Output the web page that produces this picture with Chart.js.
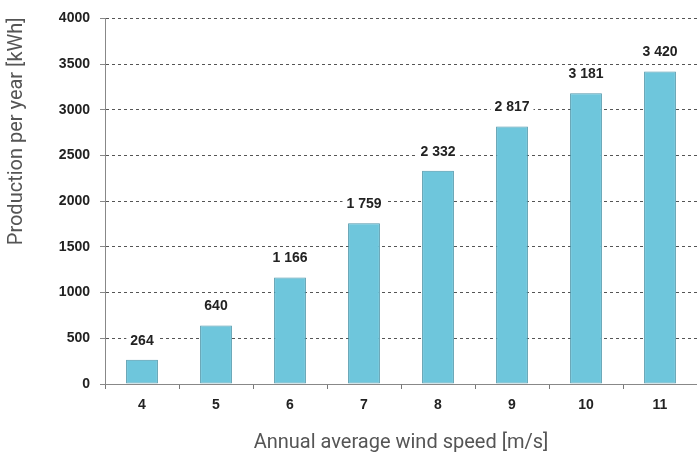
<!DOCTYPE html>
<html>
<head>
<meta charset="utf-8">
<script src="https://cdn.jsdelivr.net/npm/chart.js@4/dist/chart.umd.min.js"></script>
<style>
  body { margin: 0; background: #fff; }
  #wrap { width: 697px; height: 462px; }
</style>
</head>
<body>
<div id="wrap"><canvas id="chart"></canvas></div>
<script>
const windSpeeds = ["4", "5", "6", "7", "8", "9", "10", "11"];
const production = [264, 640, 1166, 1759, 2332, 2817, 3181, 3420];
const yTicks = [0, 500, 1000, 1500, 2000, 2500, 3000, 3500, 4000];
const yTitle = "Production per year [kWh]";

// value labels above the bars, on a white box so they cut the grid lines
const barLabels = {
  id: "barLabels",
  afterDatasetsDraw(chart) {
    const ctx = chart.ctx;
    const meta = chart.getDatasetMeta(0);
    ctx.save();
    ctx.font = "bold 14px 'Liberation Sans', Arial, sans-serif";
    ctx.textAlign = "center";
    ctx.textBaseline = "middle";
    meta.data.forEach((bar, i) => {
      const txt = String(production[i]).replace(/\B(?=(\d{3})+(?!\d))/g, " ");
      const y = bar.y - 19;
      const w = ctx.measureText(txt).width;
      ctx.fillStyle = "#fff";
      ctx.fillRect(bar.x - w / 2 - 4, y - 9, w + 8, 18);
      ctx.fillStyle = "#222";
      ctx.fillText(txt, bar.x, y);
    });
    ctx.restore();
  }
};

// y axis title, top aligned with the 4000 line
const yTitlePlugin = {
  id: "yTitle",
  afterDraw(chart) {
    const ctx = chart.ctx;
    ctx.save();
    ctx.translate(17, chart.chartArea.top - 1);
    ctx.rotate(-Math.PI / 2);
    ctx.font = "20px Roboto, sans-serif";
    ctx.fillStyle = "#555";
    ctx.textAlign = "right";
    ctx.textBaseline = "middle";
    ctx.fillText(yTitle, 0, 0);
    ctx.restore();
  }
};

new Chart(document.getElementById("chart"), {
  type: "bar",
  data: {
    labels: windSpeeds,
    datasets: [{
      data: production,
      backgroundColor: "rgb(110,198,220)",
      borderColor: "rgb(78,150,170)",
      borderWidth: 1,
      borderSkipped: false,
      barPercentage: 0.43,
      categoryPercentage: 1
    }]
  },
  options: {
    responsive: true,
    maintainAspectRatio: false,
    animation: false,
    layout: { padding: { top: 8, right: 0, left: 0, bottom: 0 } },
    plugins: { legend: { display: false }, tooltip: { enabled: false } },
    scales: {
      x: {
        afterFit(s) { s.height = 78; },
        grid: { drawOnChartArea: false, drawTicks: true, tickLength: 5, color: "#777" },
        border: { display: true, color: "#888", width: 1 },
        ticks: { color: "#222", padding: 8, font: { family: "'Liberation Sans', Arial", size: 14, weight: "bold" } },
        title: {
          display: true,
          text: "Annual average wind speed [m/s]",
          color: "#555",
          font: { family: "Roboto", size: 20 },
          padding: { top: 0, bottom: 7 }
        }
      },
      y: {
        min: 0,
        max: 4000,
        afterFit(s) { s.width = 105; },
        afterBuildTicks(s) { s.ticks = yTicks.map(v => ({ value: v })); },
        grid: { color: "#555", lineWidth: 1, tickLength: 5, tickColor: "#888", drawTicks: true },
        border: { display: true, color: "#888", width: 1, dash: [3, 3] },
        ticks: {
          color: "#222",
          padding: 10,
          font: { family: "'Liberation Sans', Arial", size: 14, weight: "bold" },
          callback: v => String(v)
        }
      }
    }
  },
  plugins: [barLabels, yTitlePlugin]
});
</script>
</body>
</html>
